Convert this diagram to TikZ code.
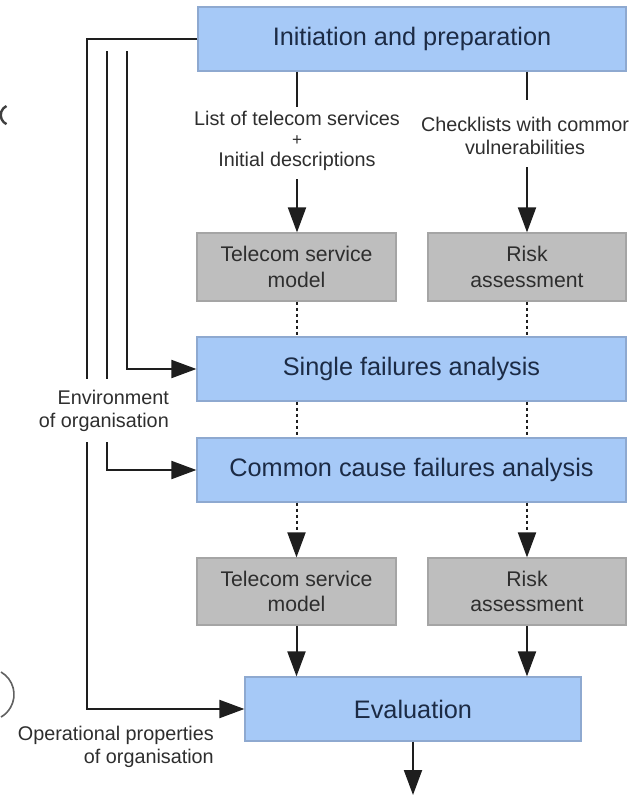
\documentclass[tikz,border=0pt]{standalone}
\usepackage{fontspec}
\setmainfont{Liberation Sans}
\usetikzlibrary{arrows.meta}
\definecolor{bluefill}{HTML}{A6C9F7}
\definecolor{blueline}{HTML}{8EA9D0}
\definecolor{grayfill}{HTML}{BEBEBE}
\definecolor{grayline}{HTML}{A5A5A5}
\definecolor{bluetext}{HTML}{1C2B45}
\definecolor{graytext}{HTML}{2E2E2E}
\definecolor{linecol}{HTML}{1E1E1E}
\begin{document}
\begin{tikzpicture}[x=1pt,y=-1pt,
  bluebox/.style={draw=blueline,fill=bluefill,line width=1.2pt,text=bluetext,
    font=\fontsize{25.3}{29}\selectfont,inner sep=0pt,anchor=center},
  graybox/.style={draw=grayline,fill=grayfill,line width=1.2pt,text=graytext,
    font=\fontsize{21.2}{25.5}\selectfont,inner sep=0pt,anchor=center,align=center},
  lbl/.style={text=graytext,font=\fontsize{19.8}{20.5}\selectfont,inner sep=0pt},
  conn/.style={draw=linecol,line width=2pt},
  arr/.style={conn,-{Triangle[length=25pt,width=18pt]}},
  dotconn/.style={conn,dash pattern=on 3pt off 3pt},
  dotarr/.style={dotconn,-{Triangle[length=25pt,width=18pt]}}]
\useasboundingbox (0,0) rectangle (644,796);
\fill[white] (0,0) rectangle (644,796);

% boxes
\node[bluebox,minimum width=428pt,minimum height=64pt] (init) at (412,39) {Initiation and preparation};
\node[graybox,minimum width=199pt,minimum height=68pt] (tsm1) at (296.5,267) {Telecom service\\model};
\node[graybox,minimum width=198pt,minimum height=68pt] (ra1) at (527,267) {Risk\\assessment};
\node[bluebox,minimum width=429pt,minimum height=64pt] (single) at (411.5,369) {Single failures analysis};
\node[bluebox,minimum width=429pt,minimum height=64pt] (common) at (411.5,470) {Common cause failures analysis};
\node[graybox,minimum width=199pt,minimum height=67pt] (tsm2) at (296.5,591.5) {Telecom service\\model};
\node[graybox,minimum width=198pt,minimum height=67pt] (ra2) at (527,591.5) {Risk\\assessment};
\node[bluebox,minimum width=336pt,minimum height=64pt] (eval) at (413,709) {Evaluation};

% labels between top box and gray boxes
\node[lbl,align=center] (l1) at (297,141) {List of telecom services\\[-1pt]{\fontsize{17}{17}\selectfont +}\\[1pt]Initial descriptions};
\node[lbl,align=center] (l2) at (525,136) {Checklists with commor\\[2pt]vulnerabilities};
\node[lbl,align=right,anchor=east] (env) at (169,411) {Environment\\[3pt]of organisation};
\node[lbl,align=right,anchor=east] (ops) at (214,747) {Operational properties\\[3pt]of organisation};

% coordinates
\coordinate (a1) at (297,107);
\coordinate (a2) at (297,179);
\coordinate (b1) at (527,100);
\coordinate (b2) at (527,167);
\coordinate (out) at (413,795);
\coordinate (o1) at (87,39);
\coordinate (o2) at (87,379);
\coordinate (o3) at (87,442);
\coordinate (m1) at (107,51);
\coordinate (m2) at (107,379);
\coordinate (m3) at (107,442);
\coordinate (i1) at (127,51);

% top connectors
\draw[conn] (init.south -| a1) -- (a1);
\draw[arr] (a2) -- (tsm1.north -| a2);
\draw[conn] (init.south -| b1) -- (b1);
\draw[arr] (b2) -- (ra1.north -| b2);

% dotted connectors
\draw[dotconn] (tsm1.south) -- (single.north -| tsm1.south);
\draw[dotconn] (ra1.south) -- (single.north -| ra1.south);
\draw[dotconn] (single.south -| tsm1.south) -- (common.north -| tsm1.south);
\draw[dotconn] (single.south -| ra1.south) -- (common.north -| ra1.south);
\draw[dotarr] (common.south -| tsm2.north) -- (tsm2.north);
\draw[dotarr] (common.south -| ra2.north) -- (ra2.north);

% to evaluation
\draw[arr] (tsm2.south) -- (eval.north -| tsm2.south);
\draw[arr] (ra2.south) -- (eval.north -| ra2.south);
\draw[arr] (eval.south) -- (out);

% left feedback lines
\draw[conn] (init.west |- o1) -- (o1) -- (o2);
\draw[arr] (o3) |- (eval.west);
\draw[conn] (m1) -- (m2);
\draw[arr] (m3) |- (common.west);
\draw[arr] (i1) |- (single.west);

% edge artefacts
\draw[linecol!85,line width=2.4pt] (6.5,106) arc[start angle=115,end angle=245,radius=10pt];
\draw[linecol!70,line width=1.6pt] (1,672) arc[start angle=60,end angle=-60,radius=26pt];
\end{tikzpicture}
\end{document}
